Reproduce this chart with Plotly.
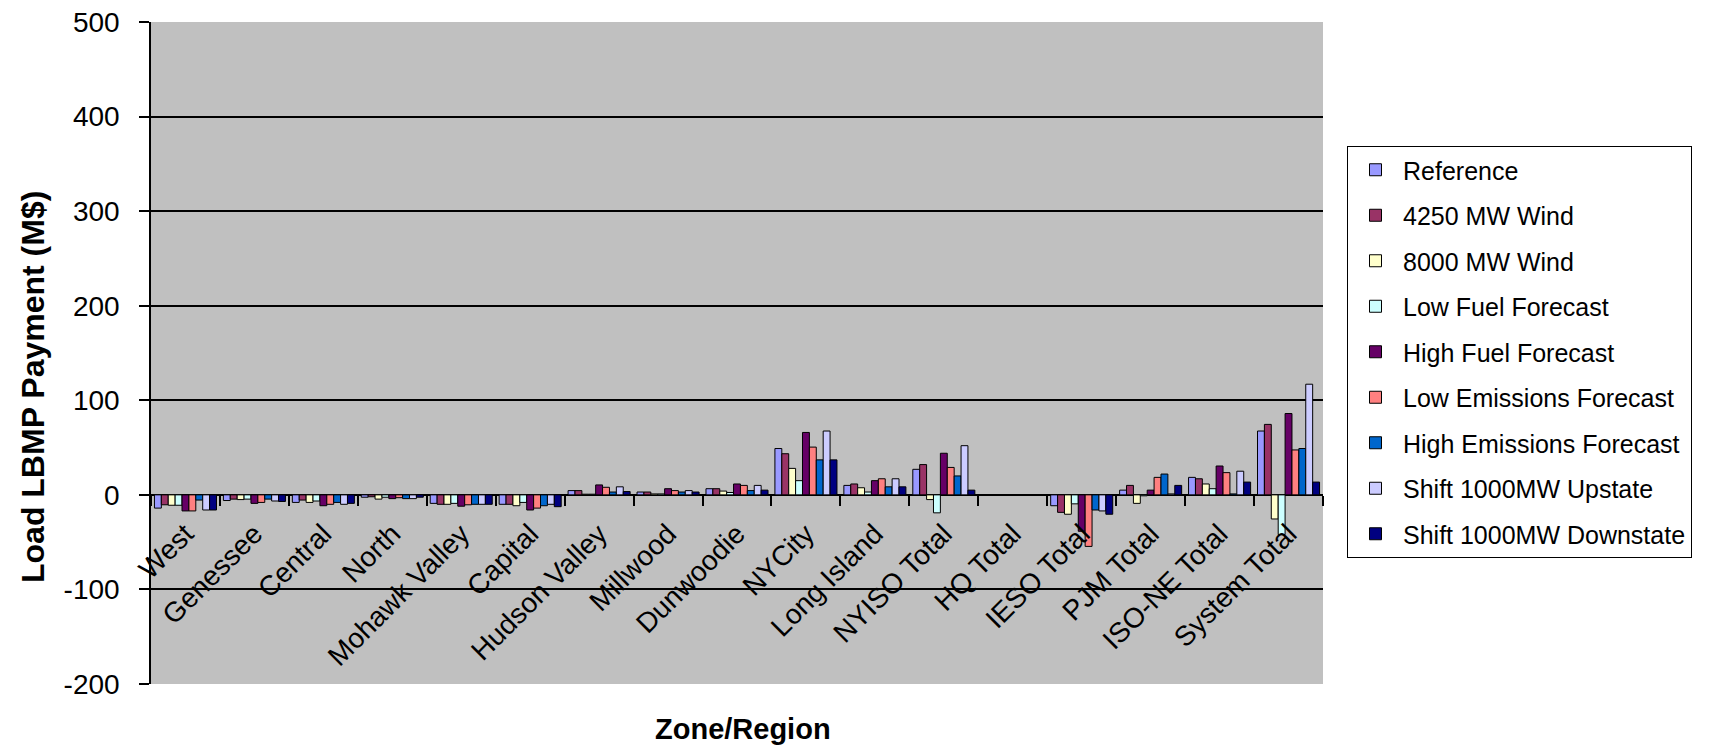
import plotly.graph_objects as go

categories = ["West", "Genessee", "Central", "North", "Mohawk Valley", "Capital",
              "Hudson Valley", "Millwood", "Dunwoodie", "NYCity", "Long Island",
              "NYISO Total", "HQ Total", "IESO Total", "PJM Total", "ISO-NE Total",
              "System Total"]

reference  = [-14, -6, -8, -2.5, -9, -10, 4.5, 3, 6.5, 49, 10, 27, 0, -11.5, 5, 18.5, 67.5]
wind_4250  = [-10.5, -4.5, -5.5, -2, -10, -10, 4.5, 3, 6.5, 43.5, 11.5, 32, 0, -18.5, 10, 17, 74.5]
wind_8000  = [-11, -5, -8, -4.5, -10, -11.5, 0.7, 1, 4, 28, 7.5, -5, 0, -20.5, -9, 11.5, -25.5]
low_fuel   = [-11, -4.5, -6.5, -2.5, -9, -8, 0.7, 1, 2.5, 15, 3, -19, 0, -9.5, -1, 6.5, -42]
high_fuel  = [-17, -9, -11.5, -4, -12, -16, 10.5, 6.5, 11.5, 66, 15, 44, 0, -38.5, 5, 30.5, 86]
low_em     = [-17, -8, -10, -3, -10.5, -14, 8, 4.5, 10, 50.5, 17, 29, 0, -54.5, 18.5, 23.5, 47.5]
high_em    = [-5.5, -4.5, -8, -4, -10, -11.5, 3, 3, 4.5, 37, 8.5, 20, 0, -16, 22, 1, 49]
shift_up   = [-16, -6.5, -10, -4, -10, -10, 8.5, 4.5, 10, 67.5, 17, 52, 0, -17, 1, 25, 117]
shift_down = [-16, -7, -9, -2.5, -10, -12.5, 3.5, 3, 5, 37, 8.5, 5, 0, -20.5, 10, 13.5, 13.5]

series_names = ["Reference", "4250 MW Wind", "8000 MW Wind", "Low Fuel Forecast",
                "High Fuel Forecast", "Low Emissions Forecast", "High Emissions Forecast",
                "Shift 1000MW Upstate", "Shift 1000MW Downstate"]
series_values = [reference, wind_4250, wind_8000, low_fuel, high_fuel, low_em,
                 high_em, shift_up, shift_down]
series_colors = ["#9999FF", "#993366", "#FFFFCC", "#CCFFFF", "#660066", "#FF8080",
                 "#0066CC", "#CCCCFF", "#000080"]

y_ticks = [-200, -100, 0, 100, 200, 300, 400, 500]
y_tick_text = ["-200", "-100", "0", "100", "200", "300", "400", "500"]

FONT = "Arial, 'Liberation Sans', sans-serif"

fig = go.Figure()
for name, vals, col in zip(series_names, series_values, series_colors):
    fig.add_trace(go.Bar(
        x=categories, y=vals, name=name, legendgroup=name,
        marker=dict(color=col, line=dict(color="black", width=1)),
    ))

# page has an 8px body margin, so the figure is drawn 8px smaller and offset
OFF = 8
W, H = 1725 - OFF, 747 - OFF
# plot area in page pixels
PL, PR, PT, PB = 151, 1323, 22, 684
L, R, T, B = PL - OFF, PR - OFF, PT - OFF, PB - OFF
ymin, ymax = -200, 500
zero_pos = (0 - ymin) / (ymax - ymin)


def px_to_paper_x(px):
    return (px - PL) / (PR - PL)


def px_to_paper_y(py):
    return (PB - py) / (PB - PT)


fig.update_layout(
    width=W, height=H,
    margin=dict(l=L, r=W - R, t=T, b=H - B, pad=0, autoexpand=False),
    paper_bgcolor="white",
    plot_bgcolor="#C0C0C0",
    barmode="group",
    bargap=0.1,
    bargroupgap=0,
    font=dict(family=FONT, color="black"),
    showlegend=True,
    legend=dict(
        x=px_to_paper_x(1347), y=px_to_paper_y(146),
        xanchor="left", yanchor="top",
        bgcolor="white", bordercolor="black", borderwidth=1,
        font=dict(size=25, family=FONT, color="black"),
        traceorder="grouped", tracegroupgap=10,
        itemwidth=45,
    ),
    xaxis=dict(
        type="category",
        anchor="free", position=zero_pos,
        automargin=False,
        showline=False, showgrid=False, zeroline=False,
        ticks="outside", tickson="boundaries", ticklen=10, tickcolor="black", tickwidth=1.5,
        tickangle=-45,
        ticklabelstandoff=16,
        tickfont=dict(size=28, family=FONT, color="black"),
    ),
    yaxis=dict(
        range=[ymin, ymax],
        automargin=False,
        tickvals=y_ticks, ticktext=y_tick_text,
        ticklabeloverflow="allow",
        showline=True, linecolor="black", linewidth=1.5,
        ticks="outside", ticklen=10, tickcolor="black", tickwidth=1.5,
        ticklabelstandoff=14,
        tickfont=dict(size=28, family=FONT, color="black"),
        showgrid=True, gridcolor="black", gridwidth=1.5,
        zeroline=True, zerolinecolor="black", zerolinewidth=1.5,
    ),
    annotations=[
        dict(
            text="<b>Zone/Region</b>", xref="paper", yref="paper",
            x=px_to_paper_x(743), y=px_to_paper_y(729),
            xanchor="center", yanchor="middle", showarrow=False,
            font=dict(size=29, family=FONT, color="black"),
        ),
        dict(
            text="<b>Load LBMP Payment (M$)</b>", xref="paper", yref="paper",
            x=px_to_paper_x(33), y=px_to_paper_y(387),
            xanchor="center", yanchor="middle", showarrow=False, textangle=-90,
            font=dict(size=32, family=FONT, color="black"),
        ),
    ],
)

fig.write_html("out.html")
